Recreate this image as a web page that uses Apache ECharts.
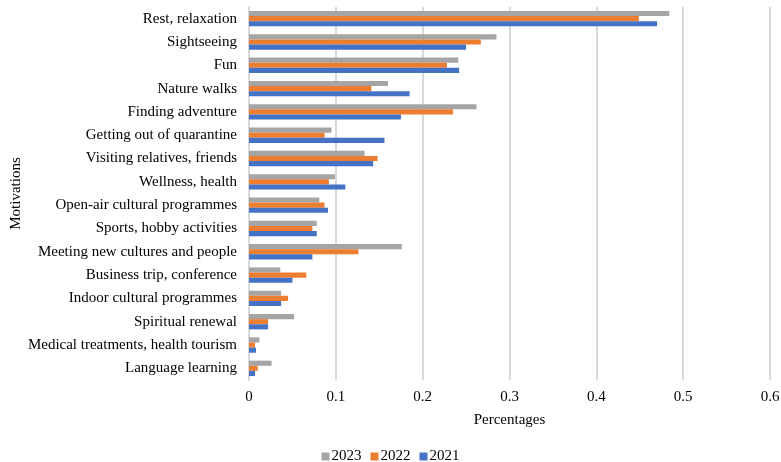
<!DOCTYPE html>
<html>
<head>
<meta charset="utf-8">
<script src="https://cdn.jsdelivr.net/npm/echarts@6/dist/echarts.min.js"></script>
<style>
  html, body { margin: 0; padding: 0; background: #fff; }
  #chart { width: 781px; height: 462px; }
</style>
</head>
<body>
<div id="chart"></div>
<script>
// Travel motivations, share of respondents per year
const motivations = [
  'Rest, relaxation',
  'Sightseeing',
  'Fun',
  'Nature walks',
  'Finding adventure',
  'Getting out of quarantine',
  'Visiting relatives, friends',
  'Wellness, health',
  'Open-air cultural programmes',
  'Sports, hobby activities',
  'Meeting new cultures and people',
  'Business trip, conference',
  'Indoor cultural programmes',
  'Spiritual renewal',
  'Medical treatments, health tourism',
  'Language learning'
];
const values2023 = [0.484, 0.285, 0.241, 0.160, 0.262, 0.095, 0.133, 0.099, 0.081, 0.078, 0.176, 0.036, 0.037, 0.052, 0.012, 0.026];
const values2022 = [0.449, 0.267, 0.228, 0.141, 0.235, 0.087, 0.148, 0.092, 0.087, 0.073, 0.126, 0.066, 0.045, 0.022, 0.007, 0.010];
const values2021 = [0.470, 0.250, 0.242, 0.185, 0.175, 0.156, 0.143, 0.111, 0.091, 0.078, 0.073, 0.050, 0.037, 0.022, 0.008, 0.007];
const xTicks = [0, 0.1, 0.2, 0.3, 0.4, 0.5, 0.6];

const font = '"Liberation Serif", "Times New Roman", serif';
const chart = echarts.init(document.getElementById('chart'));

function barSeries(name, data, color) {
  return {
    name: name,
    type: 'bar',
    data: data,
    barGap: '0%',
    barCategoryGap: '34%',
    itemStyle: { color: color },
    emphasis: { disabled: true }
  };
}

chart.setOption({
  animation: false,
  textStyle: { fontFamily: font },
  grid: { left: 249, right: 11, top: 7, bottom: 82, containLabel: false, outerBoundsMode: 'none' },
  legend: {
    data: ['2023', '2022', '2021'],
    top: 444,
    left: 'center',
    itemWidth: 8,
    itemHeight: 8,
    itemGap: 9,
    icon: 'rect',
    textStyle: { fontFamily: font, fontSize: 15, color: '#000', padding: [0, 0, 0, -3] }
  },
  xAxis: {
    type: 'value',
    min: 0,
    max: 0.6,
    interval: 0.1,
    name: 'Percentages',
    nameLocation: 'middle',
    nameGap: 33,
    nameTextStyle: { fontFamily: font, fontSize: 15, color: '#000' },
    axisLine: { show: false },
    axisTick: { show: false },
    axisLabel: {
      fontFamily: font, fontSize: 15, color: '#000', margin: 10,
      formatter: v => xTicks.indexOf(Math.round(v * 10) / 10) >= 0 ? String(Math.round(v * 10) / 10) : ''
    },
    splitLine: { show: true, lineStyle: { color: '#d9d9d9', width: 2 } }
  },
  yAxis: {
    type: 'category',
    data: motivations,
    inverse: true,
    name: 'Motivations',
    nameLocation: 'middle',
    nameGap: 225,
    nameRotate: 90,
    nameMoveOverlap: false,
    nameTextStyle: { fontFamily: font, fontSize: 15, color: '#000' },
    axisLine: { show: true, lineStyle: { color: '#d9d9d9', width: 2 } },
    axisTick: { show: false },
    axisLabel: { fontFamily: font, fontSize: 15, color: '#000', margin: 12 }
  },
  series: [
    barSeries('2023', values2023, '#a5a5a5'),
    barSeries('2022', values2022, '#ed7d31'),
    barSeries('2021', values2021, '#4472c4')
  ]
});
</script>
</body>
</html>
